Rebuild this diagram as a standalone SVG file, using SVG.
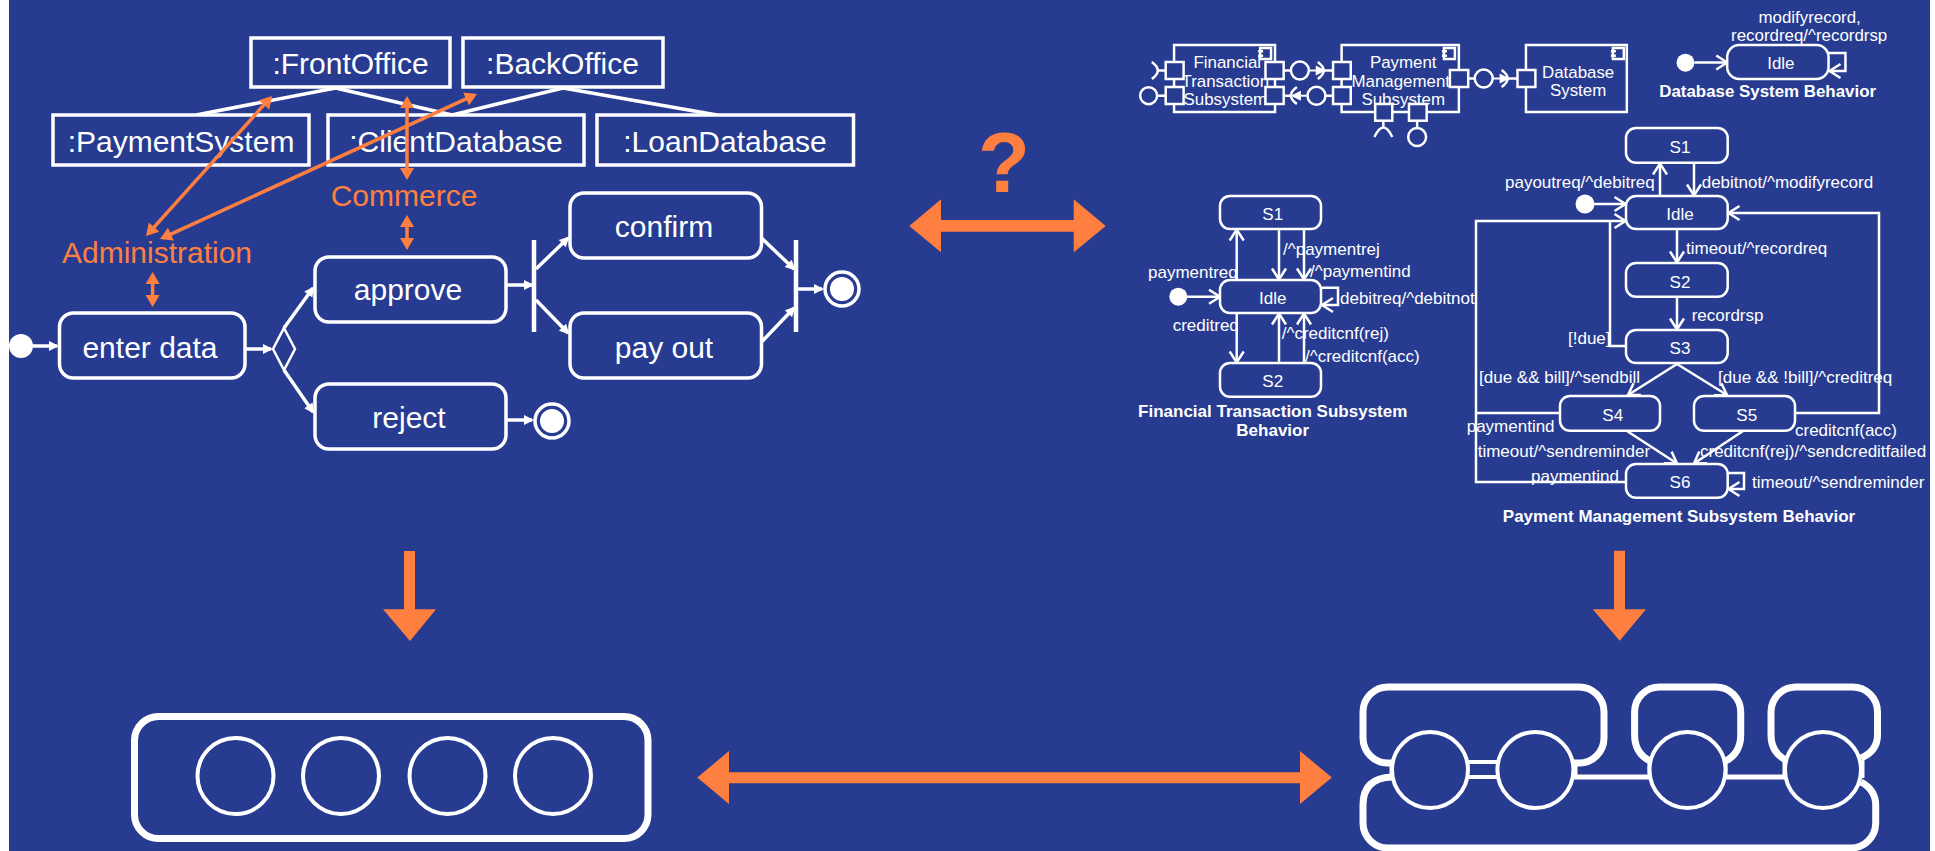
<svg xmlns="http://www.w3.org/2000/svg" width="1935" height="851" viewBox="0 0 1935 851">
<style>
text{font-family:"Liberation Sans",Arial,sans-serif;fill:#fff}
.b{font-size:30px;text-anchor:middle}
.o{font-size:30px;text-anchor:middle;fill:#ff7f40}
.s{font-size:17px}
.m{font-size:17px;text-anchor:middle}
.t{font-size:17px;font-weight:bold;text-anchor:middle}
.big{font-size:85px;font-weight:bold;text-anchor:middle;fill:#ff7f40}
.n{fill:#273c91;stroke:#fff;stroke-width:3.5}
.c{fill:#273c91;stroke:#fff;stroke-width:2.5}
.w{fill:#273c91;stroke:#fff;stroke-width:4}
.l{fill:none;stroke:#fff;stroke-width:3.5}
.e{fill:none;stroke:#fff;stroke-width:2.5}
.a{fill:none;stroke:#fff;stroke-width:3.5;marker-end:url(#fw)}
.q{fill:none;stroke:#fff;stroke-width:2;marker-end:url(#fw)}
.v{fill:none;stroke:#fff;stroke-width:2.5;marker-end:url(#op)}
.r{fill:none;stroke:#ff7f40;stroke-width:3.5;marker-start:url(#fo);marker-end:url(#fo)}
.h{fill:#ff7f40}
.k{fill:none;stroke:#fff;stroke-width:7}
.f{fill:#fff}
</style>
<defs>
<marker id="fw" markerUnits="userSpaceOnUse" markerWidth="12" markerHeight="12" refX="8" refY="6" orient="auto" overflow="visible"><path d="M0,1 L10,6 L0,11 Z" fill="#fff"/></marker>
<marker id="op" markerUnits="userSpaceOnUse" markerWidth="14" markerHeight="16" refX="12" refY="8" orient="auto" overflow="visible"><path d="M1,1 L12,8 L1,15" fill="none" stroke="#fff" stroke-width="2.5"/></marker>
<marker id="fo" markerUnits="userSpaceOnUse" markerWidth="14" markerHeight="14" refX="9" refY="7" orient="auto-start-reverse" overflow="visible"><path d="M0,0 L12,7 L0,14 Z" fill="#ff7f40"/></marker>
</defs>
<rect x="0" y="0" width="1935" height="851" fill="#fff"/>
<rect x="9" y="0" width="1921" height="851" fill="#273c91"/>

<g id="connectors">
<path class="l" d="M335.6,88 L196,115 M335.6,88 L452,115 M563,88 L452,115 M563,88 L717,115"/>
<path class="a" d="M33,346 H57"/>
<path class="a" d="M245,349 H271"/>
<path class="a" d="M284,328 L313,288"/>
<path class="a" d="M284,370 L313,412"/>
<path class="a" d="M506,285 H532"/>
<path class="a" d="M536,269 L568,238"/>
<path class="a" d="M536,300 L568,333"/>
<path class="a" d="M761.5,238 L794,269"/>
<path class="a" d="M761.5,342 L794,308"/>
<path class="a" d="M798,289 H822"/>
<path class="a" d="M506,420 H532"/>
<g id="connectors-top" transform="matrix(.99376 0 0 1 6.99 0)">
<path class="v" d="M1698,62.5 H1731"/>
<path class="v" d="M1833,53 H1850 V71 H1834"/>
<path class="e" d="M1158,70.5 H1166 M1158,95.7 H1166 M1285,70.5 H1292 M1325,70.5 H1334 M1285,95.7 H1292 M1327,95.7 H1334 M1470,78.5 H1477 M1510,78.5 H1520 M1385,121 V128 M1419,121 V128"/>
<path class="q" d="M1311,70.5 H1325"/>
<path class="q" d="M1308,95.7 H1294"/>
<path class="q" d="M1495,78.5 H1510"/>
<path class="e" d="M1152,62 Q1164,70.5 1152,79 M1319,62 Q1331,70.5 1319,79 M1298,87 Q1286,95.5 1298,104 M1504,70 Q1516,78.5 1504,87 M1376,137 Q1385,118 1394,137"/>
</g>
<path class="v" d="M1187,296.7 H1220"/>
<path class="v" d="M1236.7,280 V229.5"/>
<path class="v" d="M1279,229 V279.5"/>
<path class="v" d="M1304,229 V279.5"/>
<path class="v" d="M1236.7,313 V362.5"/>
<path class="v" d="M1279,363 V313.5"/>
<path class="v" d="M1304,363 V313.5"/>
<path class="v" d="M1321,287.7 H1338 V305 H1322"/>
<path class="v" d="M1660,196 V163.5"/>
<path class="v" d="M1694,163 V195.5"/>
<path class="v" d="M1677,229 V262.5"/>
<path class="v" d="M1677,297 V329.5"/>
<path class="v" d="M1594,204 H1625.5"/>
<path class="v" d="M1626,482 H1476 V221 H1625.5"/>
<path class="e" d="M1560,413 H1476"/>
<path class="e" d="M1626,346 H1610 V221"/>
<path class="v" d="M1795,413 H1879 V213 H1728.5"/>
<path class="v" d="M1677,364 L1628,395"/>
<path class="v" d="M1677,364 L1727,395"/>
<path class="v" d="M1627,431 L1677,463.5"/>
<path class="v" d="M1743,431 L1694,463.5"/>
<path class="v" d="M1728,473 H1744 V489 H1728.5"/>
<path class="k" d="M1392,763 H1388 A25,25 0 0 1 1363,738 V712 A25,25 0 0 1 1388,687 H1579 A25,25 0 0 1 1604,712 V738 A25,25 0 0 1 1579,763 H1574"/>
<path class="k" d="M1650,761 Q1634.6,753 1634.6,735 V712 A25,25 0 0 1 1659.6,687 H1715.7 A25,25 0 0 1 1740.7,712 V735 Q1740.7,753 1725.7,761"/>
<path class="k" d="M1785.7,760 Q1771,752 1771,735 V712 A25,25 0 0 1 1796,687 H1852.5 A25,25 0 0 1 1877.5,712 V735 Q1877.5,751 1861,758"/>
<path class="k" d="M1392,777 Q1363,778 1363,805 V823 A25,25 0 0 0 1388,848 H1850.7 A25,25 0 0 0 1875.7,823 V805 Q1875.7,790 1861,782"/>
<path class="w" d="M1468,762 H1497 M1468,777 H1497"/>
<path style="fill:none;stroke:#fff;stroke-width:5" d="M1573,777 H1650 M1725,777 H1785"/>
<path style="fill:none;stroke:#fff;stroke-width:3" d="M1391,762 V778 M1576,762 V778 M1649,762 V778 M1726,762 V778 M1784,762 V778 M1863,760 V778"/>
</g>

<g id="frontoffice"><rect class="n" x="251" y="38" width="199" height="49"/><text class="b" x="350.5" y="74">:FrontOffice</text></g>
<g id="backoffice"><rect class="n" x="463" y="38" width="200" height="49"/><text class="b" x="562.5" y="74">:BackOffice</text></g>
<g id="paymentsystem"><rect class="n" x="53" y="115" width="256" height="50"/><text class="b" x="181" y="152">:PaymentSystem</text></g>
<g id="clientdatabase"><rect class="n" x="328" y="115" width="256" height="50"/><text class="b" x="456" y="152">:ClientDatabase</text></g>
<g id="loandatabase"><rect class="n" x="597" y="115" width="256.5" height="50"/><text class="b" x="725" y="152">:LoanDatabase</text></g>

<g id="start1"><circle class="f" cx="21" cy="346" r="12"/></g>
<g id="enterdata"><rect class="n" x="59.5" y="313" width="185.5" height="65" rx="14"/><text class="b" x="150" y="358">enter data</text></g>
<g id="decision"><path style="fill:#273c91;stroke:#fff;stroke-width:2.5" d="M284,328 L295,349 L284,370 L273,349 Z"/></g>
<g id="approve"><rect class="n" x="315" y="257" width="191" height="65" rx="14"/><text class="b" x="408" y="299.5">approve</text></g>
<g id="confirm"><rect class="n" x="570" y="193" width="191.500" height="65" rx="14"/><text class="b" x="664" y="237">confirm</text></g>
<g id="payout"><rect class="n" x="570" y="313" width="191.500" height="65" rx="14"/><text class="b" x="664" y="358">pay out</text></g>
<g id="reject"><rect class="n" x="315" y="384" width="191" height="65" rx="14"/><text class="b" x="409" y="428">reject</text></g>
<g id="fork"><path style="stroke:#fff;stroke-width:4.500" d="M534,240 V332"/></g>
<g id="join"><path style="stroke:#fff;stroke-width:4.500" d="M796,240 V332"/></g>
<g id="final1"><circle class="n" cx="842" cy="289" r="17"/><circle class="f" cx="842" cy="289" r="12"/></g>
<g id="final2"><circle class="n" cx="552" cy="421" r="17"/><circle class="f" cx="552" cy="421" r="12"/></g>

<g id="orange-labels">
<text class="o" x="404" y="206">Commerce</text>
<text class="o" x="157" y="263">Administration</text>
<path class="r" d="M407,99 V177"/>
<path class="r" d="M407,218 V247"/>
<path class="r" d="M152.600,275 V304"/>
<path class="r" d="M148,233.800 L270,98.200"/>
<path class="r" d="M162.700,237.800 L474.300,95.200"/>
</g>

<g id="question"><text class="big" x="1004" y="191.500">?</text></g>
<g id="arrow-top"><path class="h" d="M909.300,226 L941,199.300 V220 H1073.700 V199.300 L1105.700,226 L1073.700,252.300 V231.700 H941 V252.300 Z"/></g>
<g id="arrow-bottom"><path class="h" d="M697.300,777.500 L729,751 V772.300 H1300 V751 L1331.800,777.500 L1300,804 V783.300 H729 V804 Z"/></g>
<g id="arrow-down-left"><path class="h" d="M404,551 H415 V609.300 H436 L410,641 L383,609.300 H404 Z"/></g>
<g id="arrow-down-right"><path class="h" d="M1614,550.700 H1625 V609.300 H1646 L1619.700,640.700 L1592.700,609.300 H1614 Z"/></g>

<g id="comp-financial" transform="matrix(.99376 0 0 1 6.99 0)">
<rect class="c" x="1174.400" y="45" width="101.600" height="67"/>
<text class="m" x="1228" y="68">Financial</text><text class="m" x="1226" y="87">Transaction</text><text class="m" x="1226" y="105">Subsystem</text>
<rect class="c" x="1261" y="48" width="11" height="11"/><rect class="f" x="1259" y="50" width="5" height="2.500"/><rect class="f" x="1259" y="54.500" width="5" height="2.500"/>
<rect class="c" x="1166" y="62" width="18" height="17"/><rect class="c" x="1166" y="87" width="18" height="17"/>
<rect class="c" x="1266.400" y="62" width="18.300" height="17"/><rect class="c" x="1266.400" y="87" width="18.300" height="17"/>
<circle class="c" cx="1148.800" cy="95.700" r="8.500"/><circle class="c" cx="1301" cy="70.500" r="9"/>
</g>
<g id="comp-payment" transform="matrix(.99376 0 0 1 6.99 0)">
<rect class="c" x="1343" y="45" width="118" height="67"/>
<text class="m" x="1405" y="68">Payment</text><text class="m" x="1402.500" y="87">Management</text><text class="m" x="1405" y="105">Subsystem</text>
<rect class="c" x="1446" y="48" width="11" height="11"/><rect class="f" x="1444" y="50" width="5" height="2.500"/><rect class="f" x="1444" y="54.500" width="5" height="2.500"/>
<rect class="c" x="1334.400" y="62" width="17.800" height="17"/><rect class="c" x="1334.400" y="87" width="17.800" height="17"/>
<rect class="c" x="1452" y="70" width="18.400" height="17"/>
<rect class="c" x="1376.800" y="104" width="17.200" height="16.700"/><rect class="c" x="1410.800" y="104" width="17.800" height="16.700"/>
<circle class="c" cx="1317.700" cy="95.700" r="9"/><circle class="c" cx="1486" cy="78.500" r="9"/><circle class="c" cx="1419" cy="137" r="9"/>
</g>
<g id="comp-database" transform="matrix(.99376 0 0 1 6.99 0)">
<rect class="c" x="1528.500" y="45" width="101.500" height="67"/>
<text class="m" x="1581" y="78">Database</text><text class="m" x="1581" y="96">System</text>
<rect class="c" x="1616" y="48" width="11" height="11"/><rect class="f" x="1614" y="50" width="5" height="2.500"/><rect class="f" x="1614" y="54.500" width="5" height="2.500"/>
<rect class="c" x="1520" y="70" width="18" height="17"/>
</g>

<g id="db-behavior" transform="matrix(.99376 0 0 1 6.99 0)">
<circle class="f" cx="1689" cy="62.700" r="9"/>
<rect class="c" x="1731" y="45" width="102" height="34" rx="12"/>
<text class="m" x="1785" y="69">Idle</text>
<text class="m" x="1814" y="23">modifyrecord,</text>
<text class="m" x="1813.500" y="41">recordreq/^recordrsp</text>
<text class="t" x="1771.700" y="97">Database System Behavior</text>
</g>

<g id="fin-behavior">
<circle class="f" cx="1178.300" cy="296.700" r="9"/>
<g id="fin-s1"><rect class="c" x="1220" y="196" width="101" height="33" rx="10"/><text class="m" x="1272.700" y="220">S1</text></g>
<g id="fin-idle"><rect class="c" x="1220" y="280" width="101" height="33" rx="10"/><text class="m" x="1272.700" y="304">Idle</text></g>
<g id="fin-s2"><rect class="c" x="1220" y="363" width="101" height="33.700" rx="10"/><text class="m" x="1272.700" y="387">S2</text></g>
<text class="s" x="1283" y="255">/^paymentrej</text>
<text class="s" x="1310" y="277">/^paymentind</text>
<text class="s" x="1148" y="278">paymentreq</text>
<text class="s" x="1340" y="304">debitreq/^debitnot</text>
<text class="s" x="1172.700" y="331">creditreq</text>
<text class="s" x="1281.700" y="339">/^creditcnf(rej)</text>
<text class="s" x="1305" y="361.700">/^creditcnf(acc)</text>
<text class="t" x="1272.700" y="417">Financial Transaction Subsystem</text>
<text class="t" x="1272.700" y="435.700">Behavior</text>
</g>

<g id="pay-behavior">
<circle class="f" cx="1585" cy="204" r="9.500"/>
<g id="pay-s1"><rect class="c" x="1626" y="128" width="101.700" height="34.700" rx="10"/><text class="m" x="1680" y="153">S1</text></g>
<g id="pay-idle"><rect class="c" x="1626" y="196" width="101.700" height="33" rx="10"/><text class="m" x="1680" y="220">Idle</text></g>
<g id="pay-s2"><rect class="c" x="1626" y="263" width="101.700" height="33.700" rx="10"/><text class="m" x="1680" y="288">S2</text></g>
<g id="pay-s3"><rect class="c" x="1626" y="330" width="101.700" height="33" rx="10"/><text class="m" x="1680" y="354">S3</text></g>
<g id="pay-s4"><rect class="c" x="1560" y="396" width="100" height="34.700" rx="10"/><text class="m" x="1612.700" y="421">S4</text></g>
<g id="pay-s5"><rect class="c" x="1694" y="396" width="101" height="34.700" rx="10"/><text class="m" x="1746.700" y="421">S5</text></g>
<g id="pay-s6"><rect class="c" x="1626" y="464" width="101.700" height="33.700" rx="10"/><text class="m" x="1680" y="487.700">S6</text></g>
<text class="s" x="1505" y="188">payoutreq/^debitreq</text>
<text class="s" x="1701.700" y="188">debitnot/^modifyrecord</text>
<text class="s" x="1686" y="254">timeout/^recordreq</text>
<text class="s" x="1691.700" y="321">recordrsp</text>
<text class="s" x="1568" y="344">[!due]</text>
<text class="s" x="1479" y="382.700">[due &amp;&amp; bill]/^sendbill</text>
<text class="s" x="1718" y="382.700">[due &amp;&amp; !bill]/^creditreq</text>
<text class="s" x="1466.700" y="431.700">paymentind</text>
<text class="s" x="1477.700" y="456.700">timeout/^sendreminder</text>
<text class="s" x="1795" y="435.700">creditcnf(acc)</text>
<text class="s" x="1700" y="456.700">creditcnf(rej)/^sendcreditfailed</text>
<text class="s" x="1531" y="481.700">paymentind</text>
<text class="s" x="1752" y="487.700">timeout/^sendreminder</text>
<text class="t" x="1679" y="522">Payment Management Subsystem Behavior</text>
</g>

<g id="bus-left">
<rect class="k" x="134.500" y="716.500" width="513.500" height="122" rx="24"/>
<circle class="w" cx="235.500" cy="776" r="38"/><circle class="w" cx="341" cy="776" r="38"/><circle class="w" cx="447.500" cy="776" r="38"/><circle class="w" cx="553" cy="776" r="38"/>
</g>
<g id="bus-right">
<circle class="w" cx="1430" cy="770" r="38"/><circle class="w" cx="1535.400" cy="770" r="38"/><circle class="w" cx="1687.500" cy="770" r="38"/><circle class="w" cx="1823" cy="770" r="38"/>
</g>
</svg>
